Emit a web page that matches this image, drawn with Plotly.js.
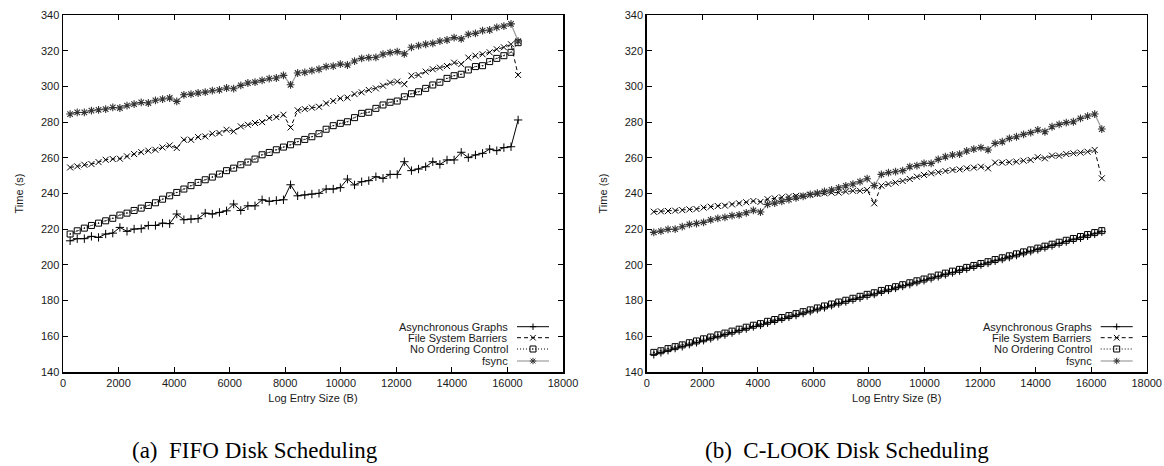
<!DOCTYPE html>
<html>
<head>
<meta charset="utf-8">
<script src="https://cdn.plot.ly/plotly-3.0.1.min.js"></script>
<style>
html, body { margin: 0; padding: 0; background: #ffffff; }
#chart { width: 1164px; height: 466px; }
</style>
</head>
<body>
<div id="chart"></div>
<script>
// ---------------- data ----------------
const entrySizes = [256,512,768,1024,1280,1536,1792,2048,2304,2560,2816,3072,3328,3584,3840,4096,
  4352,4608,4864,5120,5376,5632,5888,6144,6400,6656,6912,7168,7424,7680,7936,8192,
  8448,8704,8960,9216,9472,9728,9984,10240,10496,10752,11008,11264,11520,11776,12032,12288,
  12544,12800,13056,13312,13568,13824,14080,14336,14592,14848,15104,15360,15616,15872,16128,16384];

const seriesNames = ["Asynchronous Graphs", "File System Barriers", "No Ordering Control", "fsync"];

// (a) FIFO disk scheduling
const fifoAsync = [213.5,214.7,214.7,216.0,215.4,217.3,217.8,221.0,218.8,220.1,220.3,222.1,222.1,223.4,223.1,228.5,
  225.3,225.7,225.9,229.0,228.5,229.4,230.3,234.1,230.5,233.1,233.1,236.5,235.6,236.1,236.5,244.9,
  238.7,239.2,239.7,240.1,242.5,242.5,243.3,248.1,244.8,246.6,247.2,249.4,248.5,250.7,250.7,257.8,
  252.8,253.7,255.0,257.8,256.3,258.8,258.8,263.1,260.1,261.6,262.5,264.9,264.0,265.7,266.2,281.2];
const fifoBarriers = [254.6,255.2,256.1,256.5,257.6,258.9,259.3,259.5,260.8,262.1,263.2,264.0,264.5,265.8,266.9,265.5,
  270.1,270.1,271.6,272.0,273.5,273.9,275.7,274.8,277.6,278.5,279.5,280.0,282.3,282.8,284.1,277.0,
  286.6,287.3,288.1,288.6,290.5,291.8,293.3,293.7,295.7,296.7,298.0,298.9,300.4,302.1,302.7,301.2,
  306.0,306.4,308.3,309.6,310.5,311.4,313.3,312.5,316.1,317.2,318.0,319.1,320.8,321.9,323.6,306.4];
const fifoNoOrder = [217.3,219.1,220.6,222.1,223.4,224.7,226.1,227.9,229.0,230.5,231.8,233.3,234.8,236.8,238.7,240.6,
  242.5,244.4,246.2,247.7,249.2,250.9,252.8,254.2,256.1,257.6,259.3,261.7,263.0,264.5,266.0,267.3,
  269.0,270.3,271.8,273.5,276.0,278.0,279.3,280.2,282.5,284.9,285.5,287.7,289.6,291.1,291.8,294.2,
  295.9,297.0,298.9,300.8,302.3,304.5,306.0,306.8,309.2,311.1,311.6,313.9,315.7,317.2,319.1,324.5];
const fifoFsync = [284.5,285.4,285.4,286.4,286.9,287.3,288.2,287.9,289.2,290.1,291.0,290.7,292.2,292.9,293.5,291.6,
  295.3,295.7,296.3,296.8,297.6,298.1,299.1,298.7,300.6,301.9,302.4,303.4,304.3,304.7,306.2,300.9,
  307.5,307.9,308.8,309.6,311.1,311.4,312.5,312.0,314.2,315.7,316.1,316.3,318.0,318.9,319.5,318.2,
  321.9,322.8,323.6,324.1,325.4,326.0,327.3,326.6,329.2,329.7,331.2,331.6,333.1,333.8,335.0,325.4];

// (b) C-LOOK disk scheduling
const clookAsync = [149.9,151.0,152.2,153.4,154.4,155.6,156.6,157.8,158.9,160.0,161.0,162.1,163.3,164.3,165.5,166.4,
  167.6,168.7,169.8,170.9,171.9,173.0,174.1,175.2,176.2,177.4,178.4,179.5,180.6,181.6,182.8,183.7,
  184.9,186.0,187.1,188.2,189.2,190.4,191.4,192.5,193.6,194.7,195.8,196.8,197.9,199.0,200.1,201.1,
  202.3,203.3,204.4,205.5,206.6,207.7,208.7,209.8,210.9,212.0,213.1,214.1,215.2,216.3,217.4,218.6];
const clookBarriers = [229.8,230.0,230.2,230.4,230.7,231.1,231.3,232.1,232.6,233.0,233.2,233.9,234.5,235.1,235.8,235.3,
  236.8,237.3,237.9,238.3,238.6,238.8,239.2,239.8,240.1,240.5,240.5,241.1,241.5,241.5,242.0,234.5,
  244.4,245.3,246.1,247.0,248.1,249.4,250.4,251.3,251.9,252.6,253.2,253.5,254.1,254.5,255.0,254.1,
  257.3,257.3,257.5,257.8,258.4,258.8,260.3,259.7,261.2,261.2,262.1,262.5,262.9,263.4,264.4,248.5];
const clookNoOrder = [151.0,151.9,153.1,154.2,155.2,156.4,157.4,158.6,159.6,160.8,161.8,162.9,164.0,165.1,166.2,167.1,
  168.4,169.4,170.5,171.6,172.7,173.8,174.8,175.9,177.0,178.1,179.2,180.2,181.3,182.4,183.5,184.4,
  185.7,186.7,187.8,188.9,190.0,191.1,192.1,193.2,194.3,195.4,196.5,197.5,198.6,199.7,200.8,201.8,
  203.0,204.0,205.1,206.2,207.3,208.4,209.4,210.5,211.6,212.7,213.8,214.8,215.9,217.0,218.1,219.2];
const clookFsync = [218.2,218.9,219.9,220.0,221.4,222.7,223.2,223.8,225.2,226.1,226.6,227.6,228.0,229.2,230.6,229.6,
  233.9,234.6,235.6,236.6,237.5,238.4,239.5,240.2,241.2,242.0,243.2,244.3,245.3,246.6,248.3,244.4,
  250.7,251.7,252.2,252.8,255.0,255.6,256.9,256.9,259.1,260.6,261.6,262.1,263.8,264.9,265.7,264.4,
  268.1,269.0,270.9,271.8,273.1,274.1,275.6,274.6,277.4,278.7,279.7,280.2,282.1,283.4,284.5,276.1];

const xTitle = "Log Entry Size (B)";
const yTitle = "Time (s)";
const captions = ["(a)\u00a0\u00a0FIFO Disk Scheduling", "(b)\u00a0\u00a0C-LOOK Disk Scheduling"];

// ---------------- styling ----------------
const W = 1164, H = 466;
const SANS = "Liberation Sans, Arial, Helvetica, sans-serif";
const SERIF = "Liberation Serif, Times New Roman, serif";
const TXT = "#1a1a1a";

const styles = [
  { line: { color: "#000000", width: 1, dash: "solid" }, marker: { symbol: "cross-thin-open", size: 6, color: "#000000", line: { width: 1, color: "#000000" } } },
  { line: { color: "#000000", width: 1, dash: "4px,3px" }, marker: { symbol: "x-thin-open", size: 6, color: "#000000", line: { width: 1, color: "#000000" } } },
  { line: { color: "#000000", width: 1, dash: "1px,2px" }, marker: { symbol: "square-open-dot", size: 6, color: "#000000", line: { width: 1, color: "#000000" } } },
  { line: { color: "#9a9a9a", width: 1.2, dash: "solid" }, marker: { symbol: "asterisk-open", size: 6.5, color: "#333333", line: { width: 1.1, color: "#333333" } } }
];

function mk(yvals, idx, xa, ya) {
  return {
    type: "scatter", mode: "lines+markers",
    x: entrySizes, y: yvals, name: seriesNames[idx],
    xaxis: xa, yaxis: ya, showlegend: false, hoverinfo: "skip",
    line: styles[idx].line, marker: styles[idx].marker
  };
}

const traces = [
  mk(fifoAsync, 0, "x", "y"), mk(fifoBarriers, 1, "x", "y"), mk(fifoNoOrder, 2, "x", "y"), mk(fifoFsync, 3, "x", "y"),
  mk(clookAsync, 0, "x2", "y2"), mk(clookBarriers, 1, "x2", "y2"), mk(clookNoOrder, 2, "x2", "y2"), mk(clookFsync, 3, "x2", "y2")
];

// plot area geometry in pixels
const plots = [ { L: 63, R: 563 }, { L: 646.7, R: 1146.7 } ];
const TOP = 15, BOT = 372;
const px = v => v / W;
const py = v => 1 - v / H;

function xAxis(p, anchor) {
  return {
    domain: [px(p.L), px(p.R)], anchor: anchor, range: [0, 18000], dtick: 2000, tick0: 0,
    tickformat: "d", ticks: "inside", ticklen: 5, tickwidth: 1, tickcolor: "#000",
    showline: true, linecolor: "#000", linewidth: 1.5, mirror: "ticks",
    showgrid: false, zeroline: false,
    tickfont: { family: SANS, size: 11, color: TXT },
    title: { text: xTitle, font: { family: SANS, size: 11, color: TXT }, standoff: 6 }
  };
}
function yAxis(anchor) {
  return {
    domain: [py(BOT), py(TOP)], anchor: anchor, range: [140, 340], dtick: 20, tick0: 140,
    ticks: "inside", ticklen: 5, tickwidth: 1, tickcolor: "#000",
    showline: true, linecolor: "#000", linewidth: 1.5, mirror: "ticks",
    showgrid: false, zeroline: false,
    tickfont: { family: SANS, size: 11, color: TXT },
    title: { text: yTitle, font: { family: SANS, size: 11, color: TXT }, standoff: 15 }
  };
}

// custom gnuplot-style key (text right, sample on right)
const shapes = [];
const annotations = [];
const rowsY = [326.7, 337.7, 349.0, 361.0];
function seg(x0, y0, x1, y1, color, width, dash) {
  shapes.push({ type: "line", xref: "paper", yref: "paper", x0: px(x0), y0: py(y0), x1: px(x1), y1: py(y1),
    line: { color: color, width: width, dash: dash || "solid" } });
}
function keyMarker(kind, cx, cy, color) {
  const r = 3.2;
  if (kind === "plus" || kind === "star") {
    seg(cx - r, cy, cx + r, cy, color, 1);
    seg(cx, cy - r, cx, cy + r, color, 1);
  }
  if (kind === "x" || kind === "star") {
    const q = kind === "star" ? 2.4 : 2.8;
    seg(cx - q, cy - q, cx + q, cy + q, color, 1);
    seg(cx - q, cy + q, cx + q, cy - q, color, 1);
  }
  if (kind === "sq") {
    shapes.push({ type: "rect", xref: "paper", yref: "paper", x0: px(cx - 3), x1: px(cx + 3), y0: py(cy + 3), y1: py(cy - 3),
      line: { color: color, width: 1 }, fillcolor: "rgba(0,0,0,0)" });
    shapes.push({ type: "rect", xref: "paper", yref: "paper", x0: px(cx - 0.6), x1: px(cx + 0.6), y0: py(cy + 0.6), y1: py(cy - 0.6),
      line: { width: 0 }, fillcolor: color });
  }
}
const keyKinds = ["plus", "x", "sq", "star"];
plots.forEach((p, k) => {
  seriesNames.forEach((nm, i) => {
    const y = rowsY[i];
    annotations.push({ xref: "paper", yref: "paper", x: px(p.R - 53), y: py(y), xanchor: "right", yanchor: "middle",
      text: nm, showarrow: false, font: { family: SANS, size: 11, color: TXT } });
    const st = styles[i];
    const lw = i === 3 ? 2 : 1;
    const lcol = i === 3 ? "#c4c4c4" : st.line.color;
    seg(p.R - 46, y, p.R - 14, y, lcol, lw, st.line.dash);
    keyMarker(keyKinds[i], p.R - 30, y, st.marker.color);
  });
});

// sub-figure captions
annotations.push({ xref: "paper", yref: "paper", x: px(255), y: py(450.5), xanchor: "center", yanchor: "middle",
  borderpad: 0, text: captions[0], showarrow: false, font: { family: SERIF, size: 23, color: "#000" } });
annotations.push({ xref: "paper", yref: "paper", x: px(847), y: py(450.5), xanchor: "center", yanchor: "middle",
  borderpad: 0, text: captions[1], showarrow: false, font: { family: SERIF, size: 23, color: "#000" } });

const layout = {
  width: W, height: H,
  margin: { l: 0, r: 0, t: 0, b: 0, pad: 0 },
  paper_bgcolor: "#ffffff", plot_bgcolor: "#ffffff",
  showlegend: false,
  font: { family: SANS, size: 11, color: TXT },
  xaxis: xAxis(plots[0], "y"),
  yaxis: yAxis("x"),
  xaxis2: xAxis(plots[1], "y2"),
  yaxis2: yAxis("x2"),
  shapes: shapes,
  annotations: annotations
};

Plotly.newPlot("chart", traces, layout, { displayModeBar: false, staticPlot: true });
</script>
</body>
</html>
